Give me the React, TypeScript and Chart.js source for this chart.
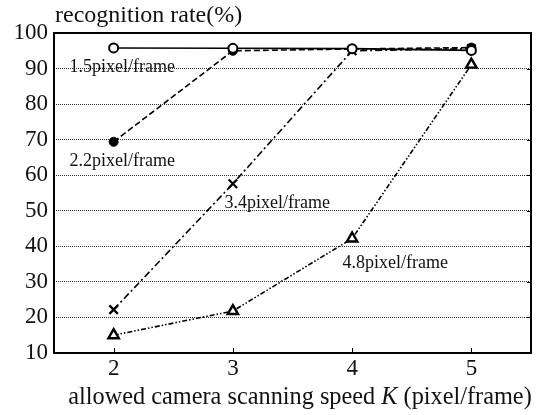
import React, { useEffect, useRef } from "react";
import { Chart, registerables } from "chart.js";

Chart.register(...registerables);

const speeds = [2, 3, 4, 5];
const rate15 = [95.8, 95.7, 95.6, 95.1];
const rate22 = [69.4, 95.0, 95.5, 95.9];
const rate34 = [22.2, 57.6, 95.0, 95.6];
const rate48 = [15.0, 21.8, 42.2, 91.1];
const yTicks = [10, 20, 30, 40, 50, 60, 70, 80, 90, 100];
const seriesLabels = ["1.5pixel/frame", "2.2pixel/frame", "3.4pixel/frame", "4.8pixel/frame"];
const labelAnchors = [
  { x: 1.63, y: 90.3 },
  { x: 1.63, y: 63.9 },
  { x: 2.93, y: 52.1 },
  { x: 3.92, y: 35.3 },
];
const yTitle = "recognition rate(%)";
const xTitleParts = ["allowed camera scanning speed ", "K", " (pixel/frame)"];

const FONT = '"Liberation Serif", "Times New Roman", serif';

const toPts = (vals: number[]) => vals.map((v, i) => ({ x: speeds[i], y: v }));

const decorPlugin = {
  id: "decor",
  afterDraw(chart: any) {
    const { ctx, chartArea, scales } = chart;
    const xs = scales.x;
    const ys = scales.y;
    ctx.save();
    // frame
    ctx.strokeStyle = "#000";
    ctx.lineWidth = 2;
    ctx.setLineDash([]);
    ctx.strokeRect(chartArea.left, chartArea.top, chartArea.right - chartArea.left, chartArea.bottom - chartArea.top);
    // inner ticks
    ctx.lineWidth = 1;
    ctx.beginPath();
    yTicks.forEach((v) => {
      const py = Math.round(ys.getPixelForValue(v)) + 0.5;
      ctx.moveTo(chartArea.right, py);
      ctx.lineTo(chartArea.right - 4, py);
    });
    speeds.forEach((v) => {
      const px = Math.round(xs.getPixelForValue(v)) + 0.5;
      ctx.moveTo(px, chartArea.bottom);
      ctx.lineTo(px, chartArea.bottom - 5);
    });
    ctx.stroke();
    // series labels
    ctx.fillStyle = "#111";
    ctx.font = `18px ${FONT}`;
    ctx.textAlign = "left";
    ctx.textBaseline = "middle";
    seriesLabels.forEach((t, i) => {
      ctx.fillText(t, xs.getPixelForValue(labelAnchors[i].x), ys.getPixelForValue(labelAnchors[i].y));
    });
    // y title
    ctx.font = `24px ${FONT}`;
    ctx.textBaseline = "alphabetic";
    ctx.fillText(yTitle, chartArea.left + 1, 22);
    // x title with italic K
    const fonts = [`24.3px ${FONT}`, `italic 24.3px ${FONT}`, `24.3px ${FONT}`];
    let total = 0;
    const widths = xTitleParts.map((p, i) => {
      ctx.font = fonts[i];
      const w = ctx.measureText(p).width;
      total += w;
      return w;
    });
    let cx = 300 - total / 2;
    xTitleParts.forEach((p, i) => {
      ctx.font = fonts[i];
      ctx.fillText(p, cx, 404);
      cx += widths[i];
    });
    ctx.restore();
  },
};

export default function App() {
  const ref = useRef<HTMLCanvasElement | null>(null);
  useEffect(() => {
    if (!ref.current) return;
    const common = { borderColor: "#000", borderWidth: 1.6, tension: 0, fill: false };
    const chart = new Chart(ref.current, {
      type: "line",
      data: {
        datasets: [
          {
            ...common,
            label: seriesLabels[0],
            data: toPts(rate15),
            pointStyle: "circle",
            pointRadius: 4.5,
            pointBorderWidth: 2,
            pointBackgroundColor: "#fff",
            pointBorderColor: "#000",
          },
          {
            ...common,
            label: seriesLabels[1],
            data: toPts(rate22),
            borderDash: [6, 3],
            pointStyle: "circle",
            pointRadius: 4.5,
            pointBorderWidth: 1,
            pointBackgroundColor: "#000",
            pointBorderColor: "#000",
          },
          {
            ...common,
            label: seriesLabels[2],
            data: toPts(rate34),
            borderDash: [7, 3, 2, 3],
            pointStyle: "crossRot",
            pointRadius: 6,
            pointBorderWidth: 2.2,
            pointBackgroundColor: "#000",
            pointBorderColor: "#000",
          },
          {
            ...common,
            label: seriesLabels[3],
            data: toPts(rate48),
            borderDash: [5, 2, 1.5, 2, 1.5, 2],
            pointStyle: "triangle",
            pointRadius: 6,
            pointBorderWidth: 2.4,
            pointBackgroundColor: "#fff",
            pointBorderColor: "#000",
          },
        ],
      },
      options: {
        animation: false,
        responsive: false,
        maintainAspectRatio: false,
        layout: { padding: { top: 33, right: 13, left: 0, bottom: 0 } },
        plugins: { legend: { display: false }, tooltip: { enabled: false }, title: { display: false } },
        scales: {
          x: {
            type: "linear",
            min: 1.5,
            max: 5.5,
            afterBuildTicks: (s: any) => {
              s.ticks = speeds.map((v) => ({ value: v }));
            },
            afterFit: (s: any) => {
              s.height = 62;
            },
            grid: { display: false, drawTicks: false },
            border: { display: false },
            ticks: { color: "#111", font: { family: FONT, size: 23 }, padding: 2, maxRotation: 0 },
          },
          y: {
            type: "linear",
            min: 10,
            max: 100,
            afterBuildTicks: (s: any) => {
              s.ticks = yTicks.map((v) => ({ value: v }));
            },
            afterFit: (s: any) => {
              s.width = 54;
            },
            grid: { display: true, drawTicks: false, color: "#333", lineWidth: 1 },
            border: { display: false, dash: [1, 1] },
            ticks: { color: "#111", font: { family: FONT, size: 23 }, padding: 6 },
          },
        },
      },
      plugins: [decorPlugin],
    } as any);
    return () => chart.destroy();
  }, []);
  return (
    <div style={{ position: "fixed", left: 0, top: 0, width: 544, height: 415, background: "#fff" }}>
      <canvas ref={ref} width={544} height={415} style={{ display: "block" }} />
    </div>
  );
}
